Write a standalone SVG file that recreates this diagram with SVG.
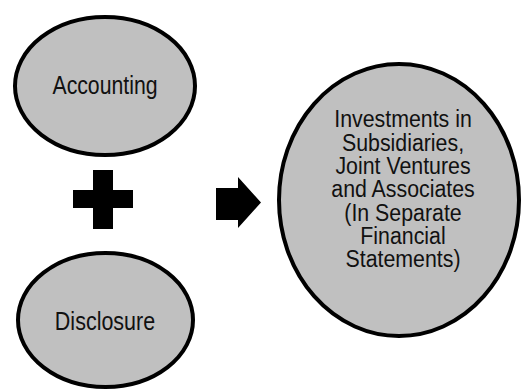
<svg xmlns="http://www.w3.org/2000/svg" width="521" height="390" viewBox="0 0 521 390">
<style>
.node{fill:#c0c0c0;stroke:#000;stroke-width:4}
.lbl{font-family:"Liberation Sans",Arial,sans-serif;font-size:25px;fill:#111;text-anchor:middle}
.big{font-size:22px}
.sym{fill:#000}
</style>
<rect width="521" height="390" fill="#fff"/>
<g id="accounting">
<ellipse class="node" cx="105" cy="86" rx="90" ry="69"/>
<text class="lbl" transform="translate(105 94) scale(0.85 1)">Accounting</text>
</g>
<g id="disclosure">
<ellipse class="node" cx="105.5" cy="320" rx="87.5" ry="67"/>
<text class="lbl" transform="translate(105 330) scale(0.86 1)">Disclosure</text>
</g>
<g id="investments">
<ellipse class="node" cx="399" cy="200" rx="120" ry="136"/>
<g transform="translate(403 0) scale(0.97 1.06)">
<text class="lbl big" x="0" y="119.8">Investments in</text>
<text class="lbl big" x="0" y="142">Subsidiaries,</text>
<text class="lbl big" x="0" y="164.2">Joint Ventures</text>
<text class="lbl big" x="0" y="186">and Associates</text>
<text class="lbl big" x="0" y="208.1"> (In Separate</text>
<text class="lbl big" x="0" y="230.2">Financial</text>
<text class="lbl big" x="0" y="251.9">Statements)</text>
</g>
</g>
<g id="connectors">
<path class="sym" d="M93 170H113V190H133V208H113V229H93V208H73V190H93Z"/>
<path class="sym" d="M216 188H238V177L261 202.5L238 228V220H216Z"/>
</g>
</svg>
